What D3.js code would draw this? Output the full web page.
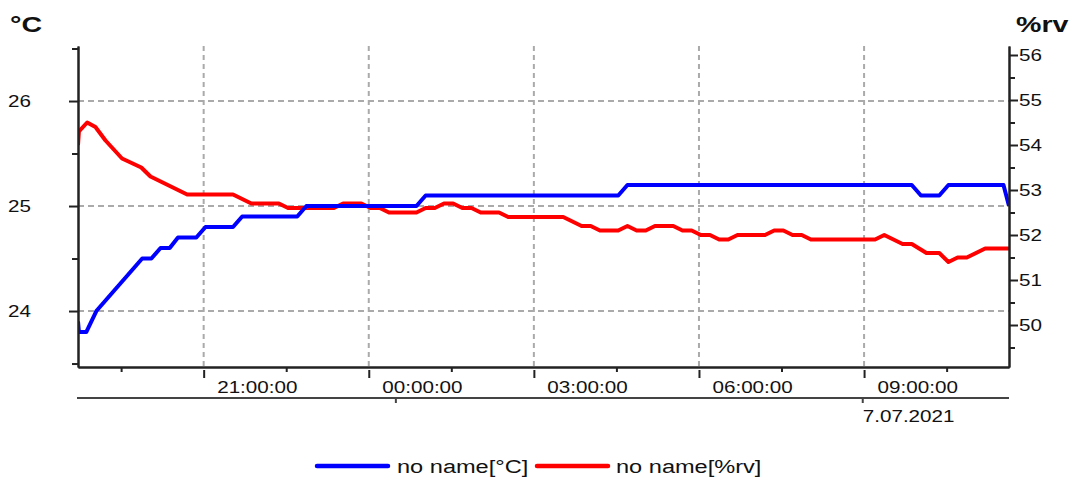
<!DOCTYPE html>
<html>
<head>
<meta charset="utf-8">
<script src="https://cdn.jsdelivr.net/npm/d3@7"></script>
<style>
  html, body { margin: 0; padding: 0; background: #fff; }
  svg { display: block; font-family: "Liberation Sans", Arial, sans-serif; }
</style>
</head>
<body>
<svg id="chart" width="1078" height="477"></svg>
<script>
// ---------------- data ----------------
const tempTimes = ["2021-07-06T18:43","2021-07-06T18:44","2021-07-06T18:52","2021-07-06T19:03","2021-07-06T19:53","2021-07-06T20:03","2021-07-06T20:13","2021-07-06T20:23","2021-07-06T20:32","2021-07-06T20:52","2021-07-06T21:02","2021-07-06T21:32","2021-07-06T21:42","2021-07-06T22:42","2021-07-06T22:52","2021-07-07T00:52","2021-07-07T01:02","2021-07-07T04:32","2021-07-07T04:42","2021-07-07T09:52","2021-07-07T10:02","2021-07-07T10:22","2021-07-07T10:32","2021-07-07T11:32","2021-07-07T11:38"];
const tempValues = [23.9,23.8,23.8,24.0,24.5,24.5,24.6,24.6,24.7,24.7,24.8,24.8,24.9,24.9,25.0,25.0,25.1,25.1,25.2,25.2,25.1,25.1,25.2,25.2,25.0];

const humTimes = ["2021-07-06T18:43","2021-07-06T18:44","2021-07-06T18:53","2021-07-06T19:02","2021-07-06T19:13","2021-07-06T19:31","2021-07-06T19:52","2021-07-06T20:02","2021-07-06T20:22","2021-07-06T20:42","2021-07-06T21:32","2021-07-06T21:52","2021-07-06T22:22","2021-07-06T22:32","2021-07-06T23:22","2021-07-06T23:32","2021-07-06T23:52","2021-07-07T00:02","2021-07-07T00:12","2021-07-07T00:22","2021-07-07T00:52","2021-07-07T01:02","2021-07-07T01:12","2021-07-07T01:22","2021-07-07T01:32","2021-07-07T01:42","2021-07-07T01:52","2021-07-07T02:02","2021-07-07T02:22","2021-07-07T02:32","2021-07-07T03:32","2021-07-07T03:52","2021-07-07T04:02","2021-07-07T04:12","2021-07-07T04:32","2021-07-07T04:42","2021-07-07T04:52","2021-07-07T05:02","2021-07-07T05:12","2021-07-07T05:32","2021-07-07T05:42","2021-07-07T05:52","2021-07-07T06:02","2021-07-07T06:12","2021-07-07T06:22","2021-07-07T06:32","2021-07-07T06:42","2021-07-07T07:12","2021-07-07T07:22","2021-07-07T07:32","2021-07-07T07:42","2021-07-07T07:52","2021-07-07T08:02","2021-07-07T09:12","2021-07-07T09:22","2021-07-07T09:42","2021-07-07T09:52","2021-07-07T10:08","2021-07-07T10:22","2021-07-07T10:32","2021-07-07T10:42","2021-07-07T10:52","2021-07-07T11:12","2021-07-07T11:38"];
const humValues = [54.0,54.3,54.5,54.4,54.1,53.7,53.5,53.3,53.1,52.9,52.9,52.7,52.7,52.6,52.6,52.7,52.7,52.6,52.6,52.5,52.5,52.6,52.6,52.7,52.7,52.6,52.6,52.5,52.5,52.4,52.4,52.2,52.2,52.1,52.1,52.2,52.1,52.1,52.2,52.2,52.1,52.1,52.0,52.0,51.9,51.9,52.0,52.0,52.1,52.1,52.0,52.0,51.9,51.9,52.0,51.8,51.8,51.6,51.6,51.4,51.5,51.5,51.7,51.7];

const timeDomain = ["2021-07-06T18:43","2021-07-07T11:38"];
const majorTimeTicks = ["2021-07-06T21:00","2021-07-07T00:00","2021-07-07T03:00","2021-07-07T06:00","2021-07-07T09:00"];
const majorTimeLabels = ["21:00:00","00:00:00","03:00:00","06:00:00","09:00:00"];
const minorTimeTicks = ["2021-07-06T19:30","2021-07-06T22:30","2021-07-07T01:30","2021-07-07T04:30","2021-07-07T07:30","2021-07-07T10:30"];
const dateTicks = ["2021-07-07T00:29","2021-07-07T08:58"];
const dateLabels = ["","7.07.2021"];

const tempDomain = [23.467, 26.524];
const tempMajorTicks = [24, 25, 26];
const tempMinorTicks = [23.5, 24.5, 25.5, 26.5];
const humDomain = [49.067, 56.2];
const humMajorTicks = [50, 51, 52, 53, 54, 55, 56];
const humMinorTicks = [49.5, 50.5, 51.5, 52.5, 53.5, 54.5, 55.5];

const seriesNames = ["no name[°C]", "no name[%rv]"];
const seriesColors = ["#0000ff", "#ff0000"];
const unitLabels = ["°C", "%rv"];

// ---------------- layout ----------------
const L = 78, R = 1009, T = 46, B = 367;
const SX = 1.29;           // horizontal stretch of the reference text
const parse = d3.isoParse;

const svg = d3.select("#chart");

const x = d3.scaleTime().domain(timeDomain.map(parse)).range([L, R]);
const yL = d3.scaleLinear().domain(tempDomain).range([B, T]);
const yR = d3.scaleLinear().domain(humDomain).range([B, T]);

function sText(g, tx, ty, str, opts = {}) {
  const grp = g.append("g").attr("transform", `translate(${tx},${ty}) scale(${opts.sx || SX},1)`);
  grp.append("text")
    .attr("x", 0).attr("y", 0)
    .attr("text-anchor", opts.anchor || "start")
    .attr("font-size", opts.size || 16)
    .attr("font-weight", opts.weight || "normal")
    .attr("fill", opts.fill || "#111")
    .text(str);
  return grp;
}

// ---------------- grid ----------------
const grid = svg.append("g");
grid.selectAll("line.h").data(tempMajorTicks).join("line")
  .attr("x1", L).attr("x2", R)
  .attr("y1", d => yL(d)).attr("y2", d => yL(d))
  .attr("stroke", "#aaaaaa").attr("stroke-width", 2).attr("stroke-dasharray", "6,4");
grid.selectAll("line.v").data(majorTimeTicks).join("line")
  .attr("x1", d => x(parse(d))).attr("x2", d => x(parse(d)))
  .attr("y1", T).attr("y2", B)
  .attr("stroke", "#aaaaaa").attr("stroke-width", 2).attr("stroke-dasharray", "5,4");

// ---------------- data lines ----------------
svg.append("clipPath").attr("id", "clip").append("rect")
  .attr("x", L).attr("y", T - 5).attr("width", R - L + 1).attr("height", B - T + 10);

const tempData = tempTimes.map((t, i) => ({ t: parse(t), v: tempValues[i] }));
const humData = humTimes.map((t, i) => ({ t: parse(t), v: humValues[i] }));

const lineL = d3.line().x(d => x(d.t)).y(d => yL(d.v));
const lineR = d3.line().x(d => x(d.t)).y(d => yR(d.v));

const plot = svg.append("g").attr("clip-path", "url(#clip)");
plot.append("path").datum(humData).attr("d", lineR)
  .attr("fill", "none").attr("stroke", seriesColors[1]).attr("stroke-width", 4)
  .attr("stroke-linejoin", "round");
plot.append("path").datum(tempData).attr("d", lineL)
  .attr("fill", "none").attr("stroke", seriesColors[0]).attr("stroke-width", 4)
  .attr("stroke-linejoin", "round");

// ---------------- axes ----------------
function styleAxis(g, color) {
  g.select(".domain").attr("stroke", color || "#222").attr("stroke-width", 2);
  g.selectAll(".tick line").attr("stroke", color || "#222").attr("stroke-width", 2);
}

// left axis
const gLminor = svg.append("g").attr("transform", `translate(${L},0)`)
  .call(d3.axisLeft(yL).tickValues(tempMinorTicks).tickSize(6).tickSizeOuter(0).tickFormat(""));
styleAxis(gLminor);
const gL = svg.append("g").attr("transform", `translate(${L},0)`)
  .call(d3.axisLeft(yL).tickValues(tempMajorTicks).tickSize(9).tickSizeOuter(0).tickFormat(d3.format("d")));
styleAxis(gL);
gL.selectAll(".tick text").remove();
gL.selectAll(".tick").each(function (d) {
  sText(d3.select(this), -47, 5.8, String(d), { anchor: "end", size: 16 });
});

// right axis
const gRminor = svg.append("g").attr("transform", `translate(${R},0)`)
  .call(d3.axisRight(yR).tickValues(humMinorTicks).tickSize(6).tickSizeOuter(0).tickFormat(""));
styleAxis(gRminor);
const gR = svg.append("g").attr("transform", `translate(${R},0)`)
  .call(d3.axisRight(yR).tickValues(humMajorTicks).tickSize(9).tickSizeOuter(0).tickFormat(d3.format("d")));
styleAxis(gR);
gR.selectAll(".tick text").remove();
gR.selectAll(".tick").each(function (d) {
  sText(d3.select(this), 10, 5.8, String(d), { anchor: "start", size: 16 });
});

// bottom time axis
const gXminor = svg.append("g").attr("transform", `translate(0,${B})`)
  .call(d3.axisBottom(x).tickValues(minorTimeTicks.map(parse)).tickSize(5).tickSizeOuter(0).tickFormat(""));
styleAxis(gXminor);
const gX = svg.append("g").attr("transform", `translate(0,${B})`)
  .call(d3.axisBottom(x).tickValues(majorTimeTicks.map(parse)).tickSize(11).tickSizeOuter(0).tickFormat(""));
styleAxis(gX);
gX.selectAll(".tick line").attr("y1", 3);
gX.selectAll(".tick").each(function (d, i) {
  sText(d3.select(this), 13, 26.3, majorTimeLabels[i], { size: 16 });
});

// date axis
const gD = svg.append("g").attr("transform", `translate(0,398)`)
  .call(d3.axisBottom(x).tickValues(dateTicks.map(parse)).tickSize(5).tickSizeOuter(0).tickFormat(""));
styleAxis(gD, "#444");
gD.select(".domain").attr("d", `M${L - 1},0H${R}`);
gD.selectAll(".tick").each(function (d, i) {
  if (dateLabels[i]) sText(d3.select(this), 0, 23.5, dateLabels[i], { size: 16 });
});

// unit labels
sText(svg, 10, 31.5, unitLabels[0], { size: 22, weight: "bold", sx: 1.3 });
sText(svg, 1016, 31.5, unitLabels[1], { size: 22, weight: "bold", sx: 1.3 });

// ---------------- legend ----------------
const legendItems = [
  { x1: 317, x2: 388, tx: 397 },
  { x1: 537, x2: 608, tx: 616 }
];
const lg = svg.append("g");
legendItems.forEach((it, i) => {
  lg.append("line").attr("x1", it.x1).attr("x2", it.x2).attr("y1", 466).attr("y2", 466)
    .attr("stroke", seriesColors[i]).attr("stroke-width", 4.5).attr("stroke-linecap", "round");
  sText(lg, it.tx, 472.5, seriesNames[i], { size: 18, sx: 1.31 });
});
</script>
</body>
</html>
